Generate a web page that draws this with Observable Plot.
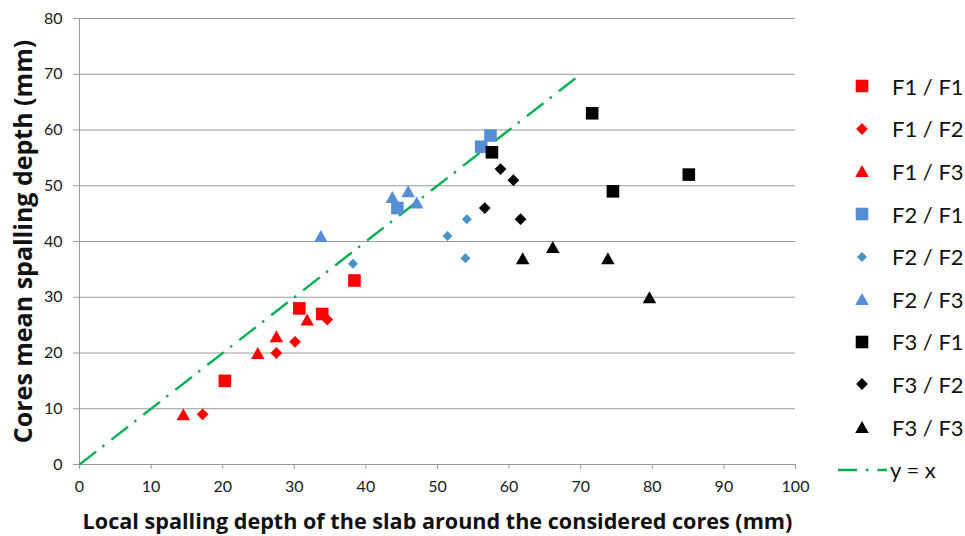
<!DOCTYPE html>
<html>
<head>
<meta charset="utf-8">
<script src="https://cdn.jsdelivr.net/npm/d3@7"></script>
<script src="https://cdn.jsdelivr.net/npm/@observablehq/plot@0.6"></script>
<style>
  html, body { margin: 0; padding: 0; background: #fff; }
  #wrap { position: relative; width: 965px; height: 536px; font-family: Lato, "Open Sans", sans-serif; }
  #legend { position: absolute; left: 852px; top: 65px; }
  .row { position: relative; height: 42.6px; display: flex; align-items: center; }
  .row svg { width: 20px; height: 20px; display: block; }
  .row span { font-family: Lato, sans-serif; font-size: 22px; color: #111; margin-left: 20px; white-space: nowrap; }
</style>
</head>
<body>
<div id="wrap"><div id="legend"></div></div>
<script>
// ---- data ----
const seriesNames = ["F1 / F1", "F1 / F2", "F1 / F3", "F2 / F1", "F2 / F2", "F2 / F3", "F3 / F1", "F3 / F2", "F3 / F3"];
const f1f1X = [20.3, 30.7, 33.9, 38.4];
const f1f1Y = [15, 28, 27, 33];
const f1f2X = [17.2, 27.5, 30.1, 34.6];
const f1f2Y = [9, 20, 22, 26];
const f1f3X = [14.5, 24.9, 27.5, 31.8];
const f1f3Y = [9, 20, 23, 26];
const f2f1X = [44.4, 56.1, 57.4];
const f2f1Y = [46, 57, 59];
const f2f2X = [38.2, 51.4, 53.9, 54.1];
const f2f2Y = [36, 41, 37, 44];
const f2f3X = [33.7, 43.7, 45.9, 47.1];
const f2f3Y = [41, 48, 49, 47];
const f3f1X = [57.6, 71.6, 74.5, 85.1];
const f3f1Y = [56, 63, 49, 52];
const f3f2X = [56.6, 58.8, 60.6, 61.6];
const f3f2Y = [46, 53, 51, 44];
const f3f3X = [61.9, 66.1, 73.8, 79.6];
const f3f3Y = [37, 39, 37, 30];
const lineX = [0, 70];
const lineY = [0, 70];
const lineName = "y = x";
const xTicks = [0, 10, 20, 30, 40, 50, 60, 70, 80, 90, 100];
const yTicks = [0, 10, 20, 30, 40, 50, 60, 70, 80];
const xTitle = "Local spalling depth of the slab around the considered cores (mm)";
const yTitle = "Cores mean spalling depth (mm)";

// ---- styles ----
const RED = "#FF0000", BLUE = "#558ED5", STEEL = "#4A93C6", BLACK = "#000000", GREEN = "#00B050";
const triBox = {
  draw(ctx, size) {
    const r = Math.sqrt(size / Math.PI);
    const w = r * 1.35, h = r * 1.2;
    ctx.moveTo(0, -h); ctx.lineTo(w, h); ctx.lineTo(-w, h); ctx.closePath();
  }
};
const xs = [f1f1X, f1f2X, f1f3X, f2f1X, f2f2X, f2f3X, f3f1X, f3f2X, f3f3X];
const ys = [f1f1Y, f1f2Y, f1f3Y, f2f1Y, f2f2Y, f2f3Y, f3f1Y, f3f2Y, f3f3Y];
const styles = [
  {fill: RED, symbol: d3.symbolSquare, r: 7.1},
  {fill: RED, symbol: d3.symbolDiamond2, r: 5.3},
  {fill: RED, symbol: triBox, r: 5},
  {fill: BLUE, symbol: d3.symbolSquare, r: 7.1},
  {fill: STEEL, symbol: d3.symbolDiamond2, r: 4.5},
  {fill: BLUE, symbol: triBox, r: 5},
  {fill: BLACK, symbol: d3.symbolSquare, r: 7.1},
  {fill: BLACK, symbol: d3.symbolDiamond2, r: 5.3},
  {fill: BLACK, symbol: triBox, r: 5}
];
const series = seriesNames.map((name, i) => ({
  name, ...styles[i],
  data: xs[i].map((x, j) => ({x, y: ys[i][j]}))
}));
const lineData = lineX.map((x, i) => ({x, y: lineY[i]}));
const DASH = "21,8,2.5,9";

const chart = Plot.plot({
  width: 965, height: 536,
  marginLeft: 79, marginRight: 170, marginTop: 18, marginBottom: 72,
  style: {fontFamily: "Lato, 'Open Sans', sans-serif", fontSize: "16px", color: "#1a1a1a", background: "white", overflow: "visible"},
  x: {domain: [0, 100]},
  y: {domain: [0, 80]},
  marks: [
    Plot.gridY(yTicks, {stroke: "#9a9a9a", strokeOpacity: 1, strokeWidth: 1}),
    Plot.ruleX([0], {stroke: "#9a9a9a", strokeWidth: 1}),
    Plot.axisX(xTicks, {tickSize: 5, tickPadding: 11, stroke: "#9a9a9a", label: null, fill: "#1a1a1a"}),
    Plot.axisY(yTicks, {tickSize: 6, tickPadding: 11, stroke: "#9a9a9a", label: null, fill: "#1a1a1a"}),
    Plot.line(lineData, {x: "x", y: "y", stroke: GREEN, strokeWidth: 2.4, strokeDasharray: DASH, strokeLinecap: "butt"}),
    ...series.map(s => Plot.dot(s.data, {x: "x", y: "y", symbol: s.symbol, r: s.r, fill: s.fill, stroke: "none"})),
    Plot.text([xTitle], {frameAnchor: "bottom", dy: 58, textAnchor: "middle", lineAnchor: "middle", fontFamily: "'Open Sans', sans-serif", fontWeight: "bold", fontSize: 21.6, fill: "#111"}),
    Plot.text([yTitle], {frameAnchor: "left", dx: -56, rotate: -90, textAnchor: "middle", lineAnchor: "middle", fontFamily: "'Open Sans', sans-serif", fontWeight: "bold", fontSize: 25, fill: "#111"})
  ]
});
document.getElementById("wrap").prepend(chart);

// ---- legend ----
const legend = document.getElementById("legend");
series.forEach(s => {
  const row = document.createElement("div");
  row.className = "row";
  const size = Math.PI * s.r * s.r;
  const path = d3.symbol(s.symbol, size)();
  row.innerHTML = `<svg viewBox="-10 -10 20 20"><path d="${path}" fill="${s.fill}"></path></svg><span>${s.name}</span>`;
  legend.appendChild(row);
});
const lrow = document.createElement("div");
lrow.className = "row";
lrow.style.marginLeft = "-14px";
lrow.innerHTML = `<svg viewBox="0 0 49 20" style="width:49px;height:20px"><line x1="0" y1="10" x2="49" y2="10" stroke="${GREEN}" stroke-width="2.4" stroke-dasharray="19,9,2.5,9"></line></svg><span style="margin-left:3px">${lineName}</span>`;
legend.appendChild(lrow);
</script>
</body>
</html>
